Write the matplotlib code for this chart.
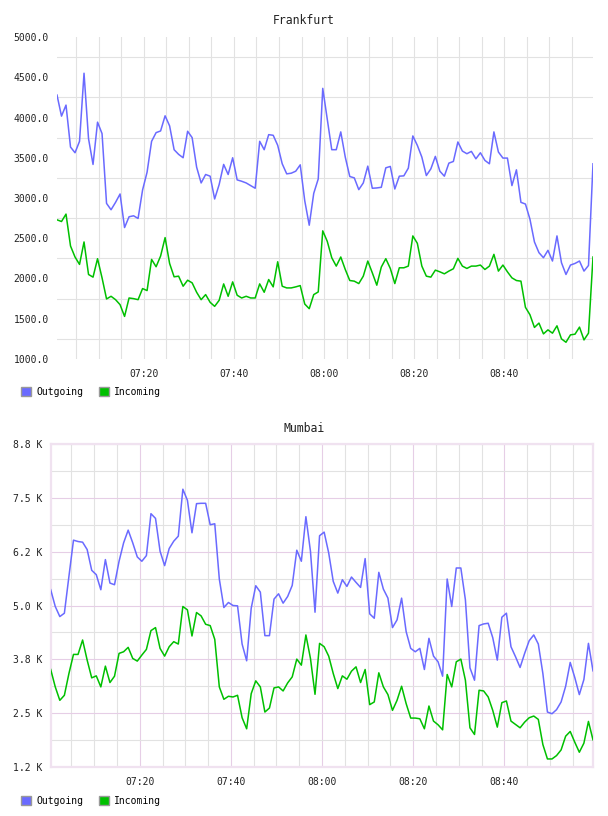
"""Tráfego de rede por site: Outgoing / Incoming, um ponto por minuto."""

import matplotlib

matplotlib.use("Agg")
import matplotlib.pyplot as plt
import matplotlib.dates as mdates
from matplotlib.patches import Patch
from matplotlib.ticker import FixedLocator, FuncFormatter
import numpy as np
import pandas as pd

# Frankfurt, 07:00:43 .. 08:59:43
fra_out = [
    4279, 4017, 4154, 3633, 3562, 3704, 4550, 3737, 3417, 3942,
    3800, 2933, 2854, 2946, 3050, 2633, 2767, 2779, 2746, 3100,
    3321, 3704, 3812, 3833, 4021, 3896, 3600, 3542, 3500, 3829,
    3750, 3383, 3187, 3292, 3271, 2988, 3167, 3417, 3292, 3500,
    3225, 3208, 3187, 3154, 3121, 3704, 3600, 3787, 3779, 3654,
    3425, 3300, 3308, 3333, 3412, 2967, 2662, 3058, 3237, 4362,
    3980, 3600, 3600, 3821, 3508, 3267, 3250, 3104, 3187, 3396,
    3121, 3125, 3133, 3375, 3392, 3112, 3271, 3275, 3371, 3771,
    3654, 3508, 3279, 3362, 3517, 3333, 3271, 3433, 3454, 3696,
    3583, 3550, 3579, 3487, 3562, 3467, 3425, 3821, 3571, 3496,
    3496, 3154, 3350, 2946, 2925, 2737, 2454, 2321, 2258, 2350,
    2217, 2529, 2196, 2050, 2167, 2187, 2217, 2092, 2162, 3425,
]
fra_in = [
    2729, 2708, 2800, 2404, 2267, 2175, 2454, 2050, 2017, 2246,
    2008, 1746, 1779, 1737, 1675, 1529, 1758, 1750, 1737, 1875,
    1850, 2237, 2146, 2279, 2508, 2187, 2021, 2029, 1904, 1979,
    1946, 1829, 1737, 1800, 1704, 1654, 1729, 1933, 1779, 1958,
    1792, 1758, 1779, 1758, 1758, 1933, 1829, 1987, 1896, 2208,
    1904, 1883, 1883, 1896, 1912, 1683, 1625, 1800, 1833, 2592,
    2462, 2258, 2154, 2267, 2112, 1975, 1967, 1937, 2029, 2217,
    2071, 1917, 2142, 2246, 2125, 1937, 2133, 2133, 2154, 2529,
    2437, 2154, 2029, 2017, 2104, 2083, 2058, 2092, 2121, 2250,
    2154, 2125, 2154, 2154, 2167, 2112, 2154, 2300, 2092, 2167,
    2083, 2008, 1975, 1967, 1642, 1550, 1392, 1446, 1312, 1362,
    1321, 1412, 1250, 1208, 1300, 1308, 1396, 1237, 1321, 2267,
]

# Mumbai, 07:00:28 .. 08:59:28
bom_out = [
    5366, 4977, 4743, 4821, 5677, 6517, 6486, 6470, 6299, 5817,
    5716, 5366, 6066, 5521, 5482, 6027, 6455, 6750, 6455, 6128,
    6027, 6159, 7132, 7023, 6260, 5926, 6323, 6494, 6610, 7700,
    7443, 6688, 7365, 7373, 7373, 6875, 6898, 5615, 4953, 5070,
    5000, 4992, 4105, 3716, 4938, 5459, 5311, 4300, 4300, 5148,
    5272, 5054, 5210, 5467, 6284, 6027, 7062, 6260, 4844, 6620,
    6704, 6222, 5560, 5288, 5599, 5443, 5661, 5537, 5420, 6089,
    4806, 4704, 5770, 5381, 5171, 4487, 4666, 5171, 4393, 4004,
    3926, 4004, 3514, 4238, 3825, 3693, 3358, 5615, 4977, 5871,
    5871, 5132, 3553, 3265, 4533, 4572, 4588, 4253, 3732, 4728,
    4821, 4043, 3810, 3561, 3888, 4183, 4316, 4105, 3421, 2526,
    2487, 2581, 2760, 3125, 3678, 3328, 2931, 3281, 4121, 3483,
]
bom_in = [
    3514, 3110, 2798, 2915, 3421, 3864, 3864, 4199, 3732, 3320,
    3366, 3110, 3592, 3211, 3358, 3888, 3926, 4028, 3771, 3709,
    3849, 3981, 4417, 4487, 4004, 3825, 4043, 4160, 4105, 4977,
    4899, 4292, 4837, 4759, 4564, 4533, 4214, 3110, 2822, 2892,
    2876, 2915, 2394, 2137, 2954, 3250, 3110, 2526, 2619, 3086,
    3110, 3016, 3203, 3343, 3755, 3615, 4316, 3771, 2938, 4121,
    4043, 3825, 3421, 3071, 3366, 3288, 3475, 3576, 3211, 3514,
    2698, 2760, 3437, 3110, 2931, 2565, 2798, 3125, 2721, 2386,
    2386, 2370, 2137, 2666, 2316, 2230, 2113, 3398, 3110, 3693,
    3755, 3265, 2160, 2005, 3032, 3016, 2876, 2565, 2176, 2744,
    2783, 2316, 2238, 2160, 2292, 2394, 2433, 2355, 1771, 1437,
    1437, 1515, 1647, 1966, 2075, 1826, 1593, 1803, 2308, 1880,
]

fra_t = pd.date_range("2024-01-01 07:00:43", periods=len(fra_out), freq="1min")
bom_t = pd.date_range("2024-01-01 07:00:28", periods=len(bom_out), freq="1min")

fra_yticks = [1000, 1500, 2000, 2500, 3000, 3500, 4000, 4500, 5000]
fra_ygrid = [1250, 1750, 2250, 2750, 3250, 3750, 4250, 4750]
bom_yticks = [1250, 2500, 3750, 5000, 6250, 7500, 8750]
bom_ygrid = [1875, 3125, 4375, 5625, 6875, 8125]

C_OUT = "#6a6aff"
C_IN = "#00c000"
GRID = "#e2e2e2"
MAJOR = "#e6cee6"
MONO = "DejaVu Sans Mono"

plt.rcParams["font.family"] = MONO

fig = plt.figure(figsize=(6.08, 8.16), dpi=100)


def draw_panel(rect, title, title_y, t, out, inc, yticks, ygrid, ylim, fmt,
               legend_y, major_grid):
    ax = fig.add_axes(rect)
    ax.plot(t, out, color=C_OUT, lw=1.1, zorder=3)
    ax.plot(t, inc, color=C_IN, lw=1.1, zorder=3)
    ax.set_xlim(t[0], t[-1])
    ax.set_ylim(*ylim)

    ax.yaxis.set_major_locator(FixedLocator(yticks))
    ax.yaxis.set_minor_locator(FixedLocator(ygrid))
    ax.yaxis.set_major_formatter(FuncFormatter(fmt))
    ax.xaxis.set_major_locator(mdates.MinuteLocator(byminute=[0, 20, 40]))
    ax.xaxis.set_minor_locator(mdates.MinuteLocator(byminute=range(0, 60, 5)))
    ax.xaxis.set_major_formatter(mdates.DateFormatter("%H:%M"))

    ax.grid(True, which="minor", color=GRID, lw=0.8, zorder=0)
    if major_grid:
        ax.grid(True, which="major", color=MAJOR, lw=0.8, zorder=1)
        for s in ax.spines.values():
            s.set_color("#f0e2f0")
            s.set_linewidth(1.6)
    else:
        ax.grid(True, which="major", axis="x", color=GRID, lw=0.8, zorder=0)
        for s in ax.spines.values():
            s.set_visible(False)

    ax.tick_params(which="both", length=0, labelsize=7, colors="#222222")
    ax.tick_params(axis="y", pad=6)
    ax.tick_params(axis="x", pad=7)

    fig.text(0.5, title_y, title, ha="center", va="center", fontsize=8.3,
             color="#222222")
    handles = [Patch(facecolor=C_OUT, edgecolor="#999999", label="Outgoing"),
               Patch(facecolor=C_IN, edgecolor="#999999", label="Incoming")]
    fig.legend(handles=handles, loc="center left",
               bbox_to_anchor=(0.035, legend_y), ncol=2, frameon=False,
               fontsize=7, handlelength=1.05, handleheight=1.05,
               handletextpad=0.5, columnspacing=1.6, borderpad=0,
               borderaxespad=0)
    return ax


draw_panel([57 / 608, 1 - 359 / 816, 536 / 608, 322 / 816], "Frankfurt",
           1 - 20.5 / 816, fra_t, fra_out, fra_in, fra_yticks, fra_ygrid,
           (1000, 5000), lambda v, _: f"{v:.1f}", 1 - 392 / 816, False)

draw_panel([50.7 / 608, 1 - 767 / 816, 542.3 / 608, 323 / 816], "Mumbai",
           1 - 428.5 / 816, bom_t, bom_out, bom_in, bom_yticks, bom_ygrid,
           (1250, 8750), lambda v, _: f"{v / 1000:.1f} K", 1 - 800.5 / 816,
           True)

fig.savefig("out.png", dpi=100)
plt.close(fig)
